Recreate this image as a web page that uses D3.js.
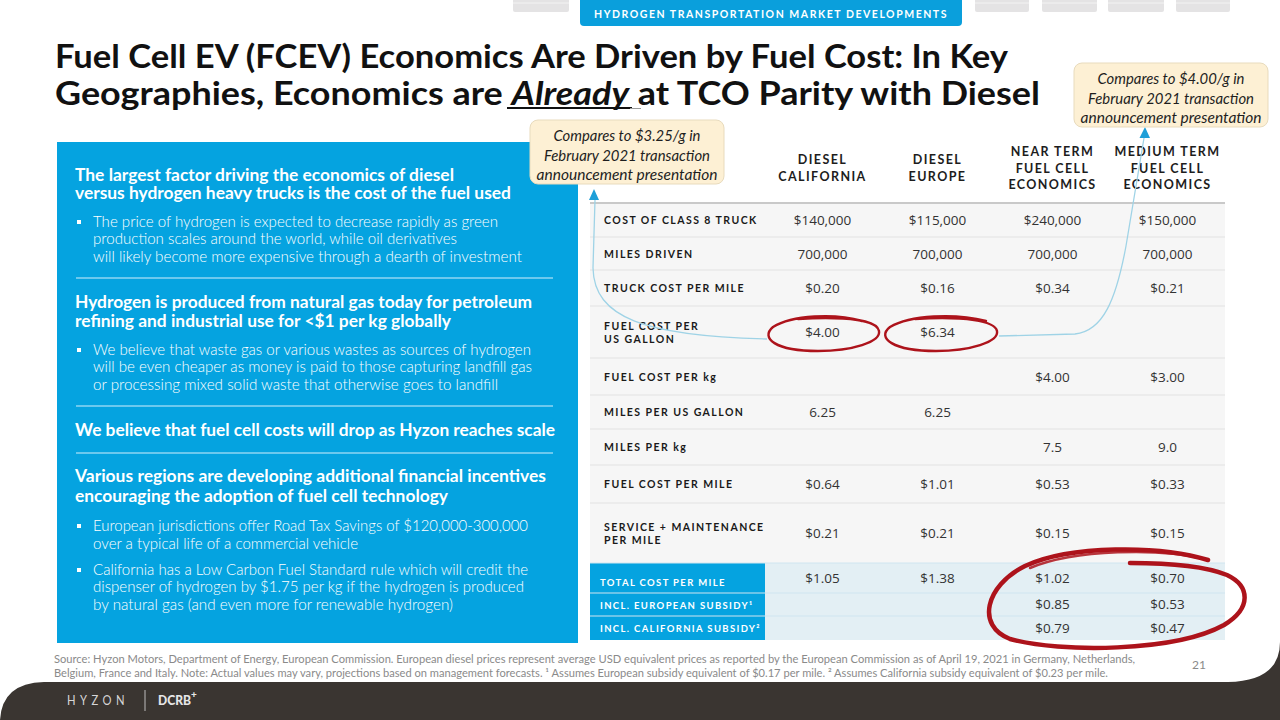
<!DOCTYPE html>
<html><head><meta charset="utf-8">
<script src="https://cdn.jsdelivr.net/npm/d3@7"></script>
<style>body{margin:0;background:#fff;} svg{display:block;}</style>
</head><body><svg id="c" width="1280" height="720"></svg>
<script>
// ---------- DATA ----------
const columns = ["DIESEL\nCALIFORNIA", "DIESEL\nEUROPE", "NEAR TERM\nFUEL CELL\nECONOMICS", "MEDIUM TERM\nFUEL CELL\nECONOMICS"];
const rowLabels = ["COST OF CLASS 8 TRUCK", "MILES DRIVEN", "TRUCK COST PER MILE", "FUEL COST PER\nUS GALLON",
  "FUEL COST PER kg", "MILES PER US GALLON", "MILES PER kg", "FUEL COST PER MILE",
  "SERVICE + MAINTENANCE\nPER MILE", "TOTAL COST PER MILE", "INCL. EUROPEAN SUBSIDY¹", "INCL. CALIFORNIA SUBSIDY²"];
const dieselCalifornia = ["$140,000", "700,000", "$0.20", "$4.00", "", "6.25", "", "$0.64", "$0.21", "$1.05", "", ""];
const dieselEurope = ["$115,000", "700,000", "$0.16", "$6.34", "", "6.25", "", "$1.01", "$0.21", "$1.38", "", ""];
const nearTermFuelCell = ["$240,000", "700,000", "$0.34", "", "$4.00", "", "7.5", "$0.53", "$0.15", "$1.02", "$0.85", "$0.79"];
const mediumTermFuelCell = ["$150,000", "700,000", "$0.21", "", "$3.00", "", "9.0", "$0.33", "$0.15", "$0.70", "$0.53", "$0.47"];
const highlightedRows = ["TOTAL COST PER MILE", "INCL. EUROPEAN SUBSIDY¹", "INCL. CALIFORNIA SUBSIDY²"];
const seriesValues = [dieselCalifornia, dieselEurope, nearTermFuelCell, mediumTermFuelCell];

// ---------- LAYOUT ----------
const rowEdges = [203, 237, 270, 306, 358, 395, 429, 465, 503, 563, 593, 616, 640];
const BLUE = "#05a3e0";
const svg = d3.select("#c");

function T(p, x, y, s, o = {}) {
  const t = p.append("text").attr("x", x).attr("y", y).text(s)
    .attr("font-family", o.ff || "Lato").attr("font-size", o.fs || 14)
    .attr("font-weight", o.fw || 400).attr("fill", o.fill || "#222");
  if (o.anchor) t.attr("text-anchor", o.anchor);
  if (o.ls != null) t.attr("letter-spacing", o.ls);
  if (o.italic) t.attr("font-style", "italic");
  if (o.w) t.attr("textLength", o.w).attr("lengthAdjust", "spacingAndGlyphs");
  return t;
}

// background footer
svg.append("rect").attr("width", 1280).attr("height", 720).attr("fill", "#fff");
svg.append("path").attr("d", "M0,720 Q2,683 44,682 L1228,682 Q1280,681 1280,642 L1280,720 Z").attr("fill", "#3a3531");

// top tabs
[[513, 569], [975, 1029], [1042, 1097], [1108, 1164], [1176, 1230]].forEach(([a, b]) => {
  svg.append("rect").attr("x", a).attr("y", -4).attr("width", b - a).attr("height", 16).attr("rx", 2).attr("fill", "#e4e3e4");
  svg.append("line").attr("x1", a).attr("x2", b).attr("y1", 3).attr("y2", 3).attr("stroke", "#f3f3f3").attr("stroke-width", 1);
});
svg.append("rect").attr("x", 580).attr("y", -6).attr("width", 382).attr("height", 32).attr("rx", 4).attr("fill", "#0a9fdc");
T(svg, 771, 18, "HYDROGEN TRANSPORTATION MARKET DEVELOPMENTS", { fs: 11, fw: 700, fill: "#fff", anchor: "middle", ls: 1.6, w: 354 });

// title
T(svg, 55, 68, "Fuel Cell EV (FCEV) Economics Are Driven by Fuel Cost: In Key", { fs: 32, fw: 700, fill: "#111", w: 953 });
const t2 = svg.append("text").attr("x", 55).attr("y", 105).attr("font-family", "Lato").attr("font-size", 32).attr("font-weight", 700).attr("fill", "#111");
t2.append("tspan").text("Geographies, Economics are ");
t2.append("tspan").attr("font-style", "italic").text("Already");
t2.append("tspan").text(" at TCO Parity with Diesel");
t2.attr("textLength", 985).attr("lengthAdjust", "spacingAndGlyphs");
svg.append("line").attr("x1", 507).attr("x2", 632).attr("y1", 108).attr("y2", 108).attr("stroke", "#111").attr("stroke-width", 2);
svg.append("line").attr("x1", 630).attr("x2", 641).attr("y1", 108.5).attr("y2", 108.5).attr("stroke", "#999").attr("stroke-width", 1);

// left blue panel
const L = svg.append("g");
L.append("rect").attr("x", 57).attr("y", 142).attr("width", 521).attr("height", 501).attr("fill", BLUE);
const H = (y, s, w) => T(L, 75, y, s, { fs: 16.5, fw: 700, fill: "#fff", w });
const B = (y, s, w) => T(L, 93, y, s, { fs: 15, fw: 300, fill: "#fff", w });
const M = (y) => L.append("rect").attr("x", 77).attr("y", y - 7).attr("width", 4).attr("height", 4).attr("fill", "#fff");
const D = (y) => L.append("line").attr("x1", 76).attr("x2", 553).attr("y1", y).attr("y2", y).attr("stroke", "#8fd6f3").attr("stroke-width", 1.5);
H(181, "The largest factor driving the economics of diesel", 379);
H(199, "versus hydrogen heavy trucks is the cost of the fuel used", 436);
M(227); B(227, "The price of hydrogen is expected to decrease rapidly as green", 405);
B(244, "production scales around the world, while oil derivatives", 364);
B(262, "will likely become more expensive through a dearth of investment", 429);
D(278);
H(308, "Hydrogen is produced from natural gas today for petroleum", 457);
H(327, "refining and industrial use for <$1 per kg globally", 376);
M(355); B(355, "We believe that waste gas or various wastes as sources of hydrogen", 438);
B(372, "will be even cheaper as money is paid to those capturing landfill gas", 439);
B(390, "or processing mixed solid waste that otherwise goes to landfill", 405);
D(406);
H(436, "We believe that fuel cell costs will drop as Hyzon reaches scale", 480);
D(453);
H(482, "Various regions are developing additional financial incentives", 471);
H(502, "encouraging the adoption of fuel cell technology", 373);
M(531); B(531, "European jurisdictions offer Road Tax Savings of $120,000-300,000", 435);
B(549, "over a typical life of a commercial vehicle", 265);
M(575); B(575, "California has a Low Carbon Fuel Standard rule which will credit the", 435);
B(592, "dispenser of hydrogen by $1.75 per kg if the hydrogen is produced", 431);
B(610, "by natural gas (and even more for renewable hydrogen)", 360);

// ---------- TABLE ----------
const x = d3.scaleBand().domain(columns).range([765, 1225]);
const y = d3.scaleOrdinal().domain(rowLabels).range(rowEdges.slice(0, -1));
const yEnd = d3.scaleOrdinal().domain(rowLabels).range(rowEdges.slice(1));
const tbl = svg.append("g");
const rows = rowLabels.map((r, i) => ({ label: r, hi: highlightedRows.includes(r), vals: seriesValues.map(s => s[i]) }));

// backgrounds
tbl.selectAll("rect.bg").data(rows).join("rect").attr("class", "bg")
  .attr("x", 590).attr("y", d => y(d.label)).attr("width", 635).attr("height", d => yEnd(d.label) - y(d.label))
  .attr("fill", d => d.hi ? "#e3eff4" : "#f6f6f6");
tbl.selectAll("rect.lab").data(rows.filter(d => d.hi)).join("rect").attr("class", "lab")
  .attr("x", 590).attr("y", d => y(d.label)).attr("width", 175).attr("height", d => yEnd(d.label) - y(d.label)).attr("fill", BLUE);
// separators
tbl.selectAll("line.sep").data(rows.slice(1)).join("line").attr("class", "sep")
  .attr("x1", 590).attr("x2", 1225).attr("y1", d => y(d.label)).attr("y2", d => y(d.label))
  .attr("stroke", d => d.hi ? "#cfe6ef" : "#e2e2e2").attr("stroke-width", 1.2);
tbl.append("line").attr("x1", 590).attr("x2", 1225).attr("y1", 203).attr("y2", 203).attr("stroke", "#c9c9c9").attr("stroke-width", 2);

// row labels
rows.forEach(d => {
  const lines = d.label.split("\n");
  const cy = (y(d.label) + yEnd(d.label)) / 2;
  lines.forEach((ln, k) => {
    const yy = cy + (k - (lines.length - 1) / 2) * 13 + 4;
    T(tbl, d.hi ? 600 : 604, d.label === "TOTAL COST PER MILE" ? cy + 8 : (d.hi ? cy + 4 : yy), ln,
      { fs: d.hi ? 9.5 : 10.5, fw: 700, fill: d.hi ? "#fff" : "#1a1a1a", ls: d.hi ? 1.35 : 1.45 });
  });
});
// values
rows.forEach(d => {
  const cy = (y(d.label) + yEnd(d.label)) / 2;
  const yy = d.label === "TOTAL COST PER MILE" ? cy + 5 : (d.hi ? cy + 4.5 : cy + 5);
  d.vals.forEach((v, j) => {
    if (!v) return;
    T(tbl, x(columns[j]) + x.bandwidth() / 2, yy, v, { ff: "Open Sans", fs: 13.5, fw: 400, fill: "#333", anchor: "middle" });
  });
});
// column headers
columns.forEach(c => {
  const lines = c.split("\n");
  const base = lines.length === 2 ? 164 : 156;
  lines.forEach((ln, k) => T(tbl, x(c) + x.bandwidth() / 2, base + k * 16.5, ln, { fs: 12.5, fw: 700, fill: "#1d1d1d", anchor: "middle", ls: 1.4 }));
});

// ---------- ANNOTATIONS ----------
const ann = svg.append("g");
ann.append("path").attr("d", "M767,339 C645,336 594,318 593,268 L595,200").attr("fill", "none").attr("stroke", "#9fd3e6").attr("stroke-width", 1.3);
ann.append("path").attr("d", "M589,200 L594,189 L599,200 Z").attr("fill", "#1e9fd8");
ann.append("path").attr("d", "M999,336 L1075,334 C1103,331 1116,300 1126,246 L1144,138").attr("fill", "none").attr("stroke", "#9fd3e6").attr("stroke-width", 1.3);
ann.append("path").attr("d", "M1139.5,138 L1145,127 L1150,138 Z").attr("fill", "#1e9fd8");

function callout(cx, top, lines) {
  ann.append("rect").attr("x", cx - 97).attr("y", top).attr("width", 194).attr("height", 64).attr("rx", 8)
    .attr("fill", "#fdf0d4").attr("stroke", "#e8dbbd").attr("stroke-width", 1);
  const ws = [147, 166, 181];
  lines.forEach((s, k) => T(ann, cx, top + 21 + k * 19.5, s, { fs: 14.5, italic: true, fill: "#1e1e1e", anchor: "middle", w: ws[k] }));
}
callout(627, 120, ["Compares to $3.25/g in", "February 2021 transaction", "announcement presentation"]);
callout(1171, 63, ["Compares to $4.00/g in", "February 2021 transaction", "announcement presentation"]);

// red hand-drawn marks
const red = "#ad131b";
const rp = (d, w, op = 1) => ann.append("path").attr("d", d).attr("fill", "none").attr("stroke", red)
  .attr("stroke-width", w).attr("stroke-linecap", "round").attr("opacity", op);
rp("M862,321 C835,313 792,315 773,327 C760,338 775,351 818,351 C852,351 881,342 879,331 C877,321 850,316 798,319", 2.4);
rp("M986,321 C955,313 910,315 890,327 C876,338 893,351 936,351 C970,351 999,342 997,331 C995,321 965,316 915,319", 2.4);
rp("M1208,560 C1160,545 1070,545 1025,566 C985,586 976,626 1010,639 C1060,653 1175,652 1224,625 C1252,608 1250,586 1227,575 C1207,567 1172,563 1130,563", 4.5);
rp("M1205,559 C1160,548 1075,549 1030,568", 2.5, 0.85);
rp("M1180,565 C1195,566 1208,568 1215,571", 1.5, 0.5);

// ---------- FOOTER ----------
T(svg, 54, 663, "Source: Hyzon Motors, Department of Energy, European Commission.  European diesel prices represent average USD equivalent prices as reported by the European Commission as of April 19, 2021 in Germany, Netherlands,", { fs: 11, fill: "#8a8a8a", w: 1081 });
T(svg, 54, 677, "Belgium, France and Italy.   Note: Actual values may vary, projections based on management forecasts. ¹ Assumes European subsidy equivalent of $0.17 per mile. ² Assumes California subsidy equivalent of $0.23 per mile.", { fs: 11, fill: "#8a8a8a", w: 1054 });
T(svg, 1199, 669, "21", { fs: 12, fill: "#8a8a8a", anchor: "middle" });
T(svg, 67, 705, "HYZON", { fs: 12.5, fw: 400, fill: "#d6d6d6", ls: 5, w: 62 });
svg.append("line").attr("x1", 145).attr("x2", 145).attr("y1", 690).attr("y2", 711).attr("stroke", "#bdbdbd").attr("stroke-width", 1);
T(svg, 158, 705, "DCRB", { fs: 12.5, fw: 900, fill: "#e6e6e6", w: 33 });
T(svg, 191, 698, "+", { fs: 10, fw: 900, fill: "#e6e6e6" });
</script>
</body></html>
